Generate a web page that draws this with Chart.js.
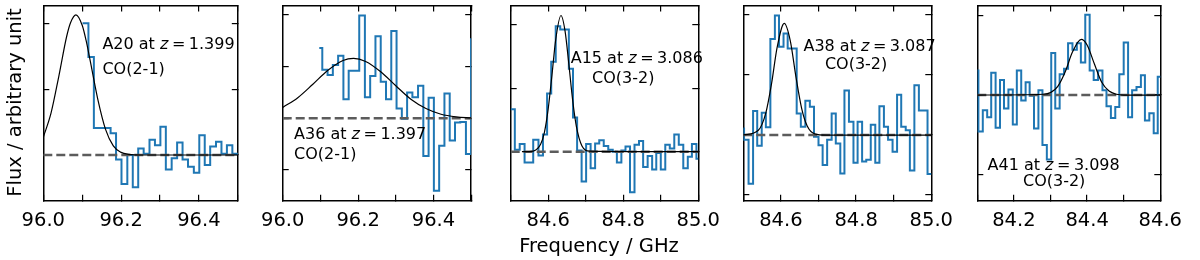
<!DOCTYPE html>
<html>
<head>
<meta charset="utf-8">
<script src="https://cdn.jsdelivr.net/npm/chart.js@4.4.1/dist/chart.umd.min.js"></script>
<style>
  html, body { margin: 0; padding: 0; background: #fff; overflow: hidden; }
  #figure { position: relative; width: 1200px; height: 260px; }
  #figure canvas { position: absolute; top: 0; }
</style>
</head>
<body>
<div id="figure">
  <canvas id="panelA20" width="270" height="260" style="left:0px"></canvas>
  <canvas id="panelA36" width="255" height="260" style="left:246px"></canvas>
  <canvas id="panelA15" width="255" height="260" style="left:480px"></canvas>
  <canvas id="panelA38" width="255" height="260" style="left:713px"></canvas>
  <canvas id="panelA41" width="250" height="260" style="left:947px"></canvas>
</div>
<script>
const FONT = 'DejaVu Sans';
const BLUE = '#1f77b4';

// A20, CO(2-1): channel edges (GHz) and flux per channel
const a20Freq = [96.101, 96.116, 96.130, 96.144, 96.158, 96.173, 96.187, 96.201, 96.216, 96.230,
  96.244, 96.258, 96.273, 96.287, 96.301, 96.315, 96.330, 96.344, 96.358, 96.372,
  96.387, 96.401, 96.415, 96.429, 96.444, 96.458, 96.472, 96.486, 96.501];
const a20Flux = [2.00, 1.49, 0.41, 0.41, 0.41, 0.33, -0.07, -0.44, 0.00, -0.49,
  0.10, 0.02, 0.23, 0.15, 0.43, -0.22, -0.05, 0.19, -0.07, -0.18,
  -0.27, 0.30, -0.15, 0.13, 0.20, 0.02, 0.15, 0.02];
const a20FitFreq = [96.00, 96.02, 96.04, 96.06, 96.07, 96.084, 96.10, 96.11, 96.12, 96.14, 96.16, 96.18, 96.20, 96.22, 96.25, 96.50];
const a20FitFlux = [0.27, 0.64, 1.20, 1.80, 2.01, 2.13, 1.97, 1.74, 1.45, 0.85, 0.39, 0.14, 0.04, 0.01, 0.00, 0.00];

// A36, CO(2-1)
const a36Freq = [96.097, 96.105, 96.119, 96.133, 96.147, 96.161, 96.175, 96.189, 96.203, 96.218,
  96.232, 96.246, 96.260, 96.274, 96.288, 96.302, 96.316, 96.330, 96.344, 96.359,
  96.373, 96.387, 96.401, 96.415, 96.429, 96.443, 96.457, 96.471, 96.486, 96.4995, 96.515];
const a36Flux = [1.36, 0.94, 0.84, 1.03, 1.21, 0.37, 0.92, 0.92, 1.99, 0.41,
  0.82, 1.59, 0.71, 0.37, 1.69, 0.19, -0.01, 0.50, 0.41, 0.63,
  -0.73, 0.40, -1.40, -0.53, 0.48, -0.43, -0.08, -0.07, -0.69, 1.53];
const a36FitFreq = [96.00, 96.04, 96.08, 96.12, 96.16, 96.188, 96.22, 96.26, 96.30, 96.34, 96.38, 96.42, 96.46, 96.50];
const a36FitFlux = [0.21, 0.40, 0.66, 0.93, 1.12, 1.16, 1.10, 0.90, 0.63, 0.37, 0.19, 0.08, 0.03, 0.01];

// A15, CO(3-2)
const a15Freq = [84.500, 84.511, 84.524, 84.537, 84.548, 84.560, 84.574, 84.586, 84.597, 84.608,
  84.620, 84.632, 84.643, 84.655, 84.666, 84.677, 84.689, 84.701, 84.713, 84.725,
  84.736, 84.748, 84.760, 84.772, 84.783, 84.795, 84.806, 84.818, 84.830, 84.842,
  84.853, 84.865, 84.877, 84.888, 84.900, 84.912, 84.924, 84.936, 84.948, 84.960,
  84.972, 84.983, 84.995, 85.001];
const a15Flux = [0.67, 0.03, 0.12, -0.17, -0.17, 0.19, -0.06, 0.27, 0.92, 1.42,
  1.98, 1.93, 1.93, 1.31, 0.54, 0.02, -0.47, 0.12, -0.26, 0.13,
  0.18, 0.09, 0.03, 0.00, -0.17, 0.02, 0.08, -0.64, 0.11, 0.17,
  -0.24, -0.07, -0.28, -0.02, -0.28, 0.11, 0.05, 0.27, 0.11, -0.26,
  -0.08, 0.12, -0.11];
const a15FitFreq = [84.53, 84.56, 84.58, 84.59, 84.60, 84.61, 84.62, 84.634, 84.645, 84.655, 84.665, 84.675, 84.69, 84.71, 85.00];
const a15FitFlux = [0.00, 0.01, 0.12, 0.31, 0.68, 1.21, 1.77, 2.15, 1.90, 1.38, 0.82, 0.40, 0.09, 0.01, 0.00];

// A38, CO(3-2)
const a38Freq = [84.500, 84.502, 84.514, 84.526, 84.537, 84.549, 84.560, 84.572, 84.584, 84.595,
  84.607, 84.618, 84.630, 84.642, 84.653, 84.665, 84.677, 84.688, 84.700, 84.711,
  84.723, 84.735, 84.746, 84.758, 84.769, 84.781, 84.793, 84.804, 84.816, 84.827,
  84.839, 84.851, 84.862, 84.874, 84.885, 84.897, 84.909, 84.920, 84.932, 84.943,
  84.955, 84.967, 84.978, 84.990, 85.001];
const a38Flux = [0.11, -0.08, -0.81, 0.40, -0.18, 0.37, 0.13, 1.60, 1.99, 1.47,
  1.69, 1.44, 1.44, 0.36, 0.14, 0.57, 0.47, -0.03, -0.17, -0.50,
  -0.08, 0.36, -0.14, -0.64, 0.74, 0.22, -0.46, 0.22, -0.44, -0.41,
  0.17, -0.46, 0.48, 0.14, -0.08, -0.28, 0.67, 0.14, 0.08, -0.59,
  0.83, 0.41, 0.41, -0.65];
const a38FitFreq = [84.50, 84.54, 84.56, 84.575, 84.59, 84.609, 84.625, 84.64, 84.655, 84.67, 84.69, 84.72, 85.00];
const a38FitFlux = [0.00, 0.08, 0.37, 0.85, 1.46, 1.86, 1.57, 0.97, 0.45, 0.15, 0.02, 0.00, 0.00];

// A41, CO(3-2)
const a41Freq = [84.100, 84.103, 84.115, 84.127, 84.138, 84.150, 84.162, 84.173, 84.185, 84.197,
  84.208, 84.220, 84.232, 84.243, 84.255, 84.267, 84.278, 84.290, 84.302, 84.313,
  84.325, 84.337, 84.348, 84.360, 84.372, 84.383, 84.395, 84.407, 84.418, 84.430,
  84.442, 84.453, 84.465, 84.477, 84.488, 84.500, 84.512, 84.523, 84.535, 84.547,
  84.558, 84.570, 84.582, 84.593, 84.605];
const a41Flux = [0.31, -0.46, -0.19, -0.28, 0.28, -0.41, 0.19, -0.17, 0.07, -0.37,
  0.31, -0.07, 0.16, -0.01, -0.42, 0.06, -0.63, -0.81, 0.53, -0.17,
  0.26, 0.33, 0.65, 0.57, 0.65, 0.41, 1.01, 0.31, 0.19, 0.31,
  0.06, -0.14, -0.29, -0.15, 0.26, 0.66, -0.28, 0.06, 0.10, 0.25,
  -0.32, -0.23, -0.48, 0.23];
const a41FitFreq = [84.10, 84.28, 84.30, 84.32, 84.34, 84.36, 84.384, 84.40, 84.42, 84.44, 84.46, 84.48, 84.50, 84.60];
const a41FitFlux = [0.00, 0.01, 0.03, 0.11, 0.29, 0.54, 0.70, 0.63, 0.39, 0.16, 0.05, 0.01, 0.00, 0.00];

const sourceNames = ['A20', 'A36', 'A15', 'A38', 'A41'];
const redshifts = ['1.399', '1.397', '3.086', '3.087', '3.098'];
const lineNames = ['CO(2-1)', 'CO(2-1)', 'CO(3-2)', 'CO(3-2)', 'CO(3-2)'];
const freqRanges = [[96.0, 96.5], [96.0, 96.5], [84.5, 85.0], [84.5, 85.0], [84.1, 84.6]];
const fluxRanges = [[-0.694, 2.271], [-1.594, 2.184], [-0.774, 2.308], [-1.094, 2.158], [-1.329, 1.126]];

const panels = [
  { id: 'panelA20', width: 270, padLeft: 43.3, freq: a20Freq, flux: a20Flux, fitFreq: a20FitFreq, fitFlux: a20FitFlux,
    line1: [96.152, 1.671], line2: [96.152, 1.291], line2Align: 'left', yTitle: [16, 102.5] },
  { id: 'panelA36', width: 255, padLeft: 30.7, freq: a36Freq, flux: a36Flux, fitFreq: a36FitFreq, fitFlux: a36FitFlux,
    line1: [96.030, -0.323], line2: [96.030, -0.710], line2Align: 'left' },
  { id: 'panelA15', width: 255, padLeft: 30.7, freq: a15Freq, flux: a15Flux, fitFreq: a15FitFreq, fitFlux: a15FitFlux,
    line1: [84.660, 1.458], line2: [84.800, 1.147], line2Align: 'center', xTitle: [119, 247] },
  { id: 'panelA38', width: 255, padLeft: 30.3, freq: a38Freq, flux: a38Flux, fitFreq: a38FitFreq, fitFlux: a38FitFlux,
    line1: [84.660, 1.472], line2: [84.800, 1.167], line2Align: 'center' },
  { id: 'panelA41', width: 250, padLeft: 30.3, freq: a41Freq, flux: a41Flux, fitFreq: a41FitFreq, fitFlux: a41FitFlux,
    line1: [84.128, -0.889], line2: [84.310, -1.090], line2Align: 'center' }
];

Chart.defaults.color = '#000';
Chart.defaults.font.family = FONT;

// text inside each panel plus the shared axis titles
const panelText = {
  id: 'panelText',
  afterDatasetsDraw(chart, args, opts) {
    const ctx = chart.ctx;
    const xs = chart.scales.x, ys = chart.scales.y;
    const normal = '16px "' + FONT + '"';
    const italic = 'italic 16px "' + FONT + '"';
    ctx.save();
    ctx.fillStyle = '#000';
    ctx.textBaseline = 'middle';
    ctx.textAlign = 'left';

    let cx = xs.getPixelForValue(opts.line1[0]);
    const cy = ys.getPixelForValue(opts.line1[1]);
    const head = opts.name + ' at ';
    ctx.font = normal;
    ctx.fillText(head, cx, cy);
    cx += ctx.measureText(head).width;
    ctx.font = italic;
    ctx.fillText('z', cx, cy);
    cx += ctx.measureText('z').width + 3.5;
    ctx.font = normal;
    ctx.fillText('=', cx, cy);
    cx += ctx.measureText('=').width + 3.5;
    ctx.fillText(opts.z, cx, cy);

    ctx.textAlign = opts.line2Align;
    ctx.fillText(opts.line, xs.getPixelForValue(opts.line2[0]), ys.getPixelForValue(opts.line2[1]));

    ctx.font = '19.5px "' + FONT + '"';
    ctx.textAlign = 'center';
    if (opts.yTitle) {
      ctx.translate(opts.yTitle[0], opts.yTitle[1]);
      ctx.rotate(-Math.PI / 2);
      ctx.fillText('Flux / arbitrary unit', 0, 0);
    }
    if (opts.xTitle) {
      ctx.fillText('Frequency / GHz', opts.xTitle[0], opts.xTitle[1]);
    }
    ctx.restore();
  }
};

function stepPoints(edges, values) {
  return edges.map((x, i) => ({ x: x, y: values[Math.min(i, values.length - 1)] }));
}

function pairPoints(xs, ys) {
  return xs.map((x, i) => ({ x: x, y: ys[i] }));
}

function buildPanel(p, k) {
  const plotWidth = 194.5;
  const [xmin, xmax] = freqRanges[k];
  const [ymin, ymax] = fluxRanges[k];
  const tickGrid = { display: true, drawOnChartArea: false, drawTicks: true, tickLength: -6, color: '#000', lineWidth: 1.2 };
  const spine = { display: true, color: '#000', width: 1.5 };

  return new Chart(document.getElementById(p.id), {
    type: 'line',
    data: {
      datasets: [
        { data: pairPoints(p.fitFreq, p.fitFlux), borderColor: '#000', borderWidth: 1.2,
          cubicInterpolationMode: 'monotone', pointRadius: 0, fill: false },
        { data: pairPoints([xmin, xmax], [0, 0]), borderColor: '#5c5c5c', borderWidth: 2.5,
          borderDash: [9, 4], pointRadius: 0, fill: false },
        { data: stepPoints(p.freq, p.flux), borderColor: BLUE, borderWidth: 2,
          stepped: 'before', pointRadius: 0, fill: false }
      ]
    },
    options: {
      responsive: false,
      animation: false,
      devicePixelRatio: 1,
      layout: { padding: { left: p.padLeft, right: p.width - p.padLeft - plotWidth, top: 5.5, bottom: 19.3 } },
      plugins: {
        legend: { display: false },
        tooltip: { enabled: false },
        panelText: {
          name: sourceNames[k], z: redshifts[k], line: lineNames[k],
          line1: p.line1, line2: p.line2, line2Align: p.line2Align,
          yTitle: p.yTitle, xTitle: p.xTitle
        }
      },
      scales: {
        x: {
          type: 'linear', position: 'bottom', min: xmin, max: xmax,
          afterFit: s => { s.height = 40; },
          border: spine, grid: tickGrid,
          ticks: {
            stepSize: 0.1, autoSkip: false, maxRotation: 0, includeBounds: false, padding: 15,
            font: { family: FONT, size: 19.5 },
            callback: v => (Math.round(v * 10) % 2 === 0 ? v.toFixed(1) : '')
          }
        },
        x2: {
          type: 'linear', position: 'top', min: xmin, max: xmax,
          afterFit: s => { s.height = 0; },
          border: spine, grid: tickGrid,
          ticks: { display: false, stepSize: 0.1, includeBounds: false }
        },
        y: {
          type: 'linear', position: 'left', min: ymin, max: ymax,
          afterFit: s => { s.width = 0; },
          border: spine, grid: tickGrid,
          ticks: { display: false, stepSize: 1, includeBounds: false }
        },
        y2: {
          type: 'linear', position: 'right', min: ymin, max: ymax,
          afterFit: s => { s.width = 0; },
          border: spine, grid: tickGrid,
          ticks: { display: false, stepSize: 1, includeBounds: false }
        }
      }
    },
    plugins: [panelText]
  });
}

panels.forEach(buildPanel);
</script>
</body>
</html>
